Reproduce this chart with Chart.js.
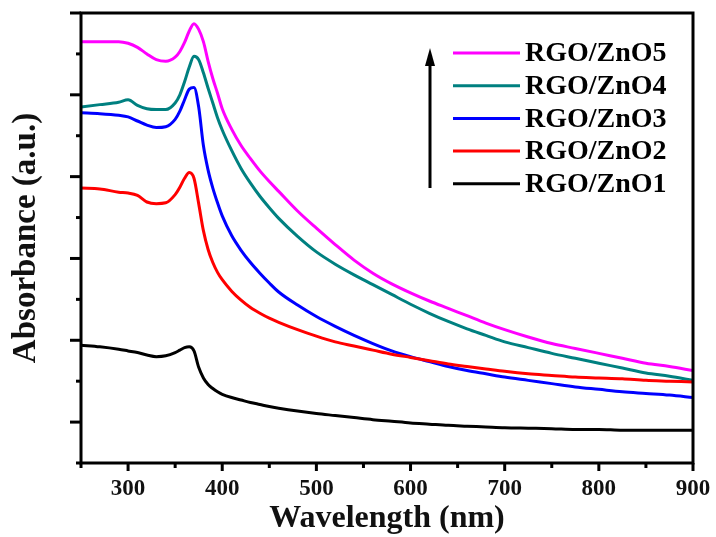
<!DOCTYPE html>
<html lang="en">
<head>
    <meta charset="UTF-8">
    <title>RGO/ZnO Absorbance</title>
    <script src="https://cdn.jsdelivr.net/npm/chart.js"></script>
    <style>
        body, html {
            margin: 0;
            padding: 0;
            background: #fff;
        }
        .chart-container {
            width: 716px;
            height: 537px;
        }
    </style>
</head>
<body>
    <div class="chart-container">
        <canvas id="absChart"></canvas>
    </div>

    <script>
        // Wavelength (nm) shared by all spectra
        const wavelengths = [250, 270, 290, 300, 310, 320, 330, 340, 350, 355, 360, 365, 370, 375, 380, 385, 390, 395, 400,
            410, 420, 430, 440, 450, 460, 480, 500, 520, 540, 560, 580, 600, 620, 640, 660, 680, 700, 725, 750, 775, 800,
            825, 850, 875, 900];

        const zno1 = [1.44, 1.42, 1.39, 1.37, 1.35, 1.32, 1.30, 1.31, 1.35, 1.38, 1.41, 1.42, 1.37, 1.17, 1.04, 0.96, 0.91, 0.87, 0.84,
            0.80, 0.77, 0.74, 0.715, 0.69, 0.67, 0.635, 0.605, 0.58, 0.555, 0.53, 0.51, 0.49, 0.475, 0.46, 0.45, 0.44, 0.43, 0.425, 0.42, 0.41, 0.41,
            0.40, 0.40, 0.40, 0.40];
        const zno2 = [3.36, 3.35, 3.31, 3.30, 3.27, 3.19, 3.17, 3.18, 3.28, 3.37, 3.48, 3.55, 3.48, 3.17, 2.84, 2.61, 2.45, 2.33, 2.24,
            2.10, 1.99, 1.90, 1.83, 1.77, 1.72, 1.63, 1.55, 1.48, 1.43, 1.38, 1.33, 1.29, 1.25, 1.21, 1.18, 1.15, 1.12, 1.09, 1.07, 1.05, 1.04,
            1.03, 1.01, 1.00, 0.99];
        const zno3 = [4.28, 4.27, 4.25, 4.23, 4.18, 4.13, 4.10, 4.11, 4.20, 4.30, 4.44, 4.57, 4.59, 4.35, 3.88, 3.58, 3.36, 3.18, 3.02,
            2.78, 2.60, 2.45, 2.32, 2.20, 2.09, 1.93, 1.79, 1.67, 1.56, 1.46, 1.37, 1.30, 1.24, 1.18, 1.13, 1.09, 1.05, 1.01, 0.97, 0.93, 0.90,
            0.87, 0.85, 0.83, 0.80];
        const zno4 = [4.35, 4.38, 4.41, 4.44, 4.37, 4.33, 4.32, 4.32, 4.40, 4.50, 4.66, 4.84, 4.97, 4.93, 4.77, 4.58, 4.40, 4.22, 4.07,
            3.82, 3.60, 3.42, 3.26, 3.12, 2.99, 2.77, 2.58, 2.43, 2.30, 2.18, 2.06, 1.94, 1.83, 1.73, 1.64, 1.56, 1.48, 1.41, 1.34, 1.28, 1.22,
            1.16, 1.10, 1.06, 1.01];
        const zno5 = [5.15, 5.15, 5.15, 5.13, 5.08, 5.00, 4.93, 4.91, 4.96, 5.03, 5.14, 5.28, 5.37, 5.30, 5.15, 4.91, 4.70, 4.52, 4.33,
            4.08, 3.88, 3.72, 3.57, 3.44, 3.32, 3.08, 2.87, 2.67, 2.48, 2.32, 2.19, 2.08, 1.98, 1.89, 1.80, 1.71, 1.63, 1.54, 1.46, 1.40, 1.34,
            1.28, 1.22, 1.18, 1.13];

        const seriesNames = ['RGO/ZnO1', 'RGO/ZnO2', 'RGO/ZnO3', 'RGO/ZnO4', 'RGO/ZnO5'];
        const seriesValues = [zno1, zno2, zno3, zno4, zno5];
        const seriesColors = ['#000000', '#ff0000', '#0000ff', '#008080', '#ff00ff'];

        const xTicks = [250, 300, 350, 400, 450, 500, 550, 600, 650, 700, 750, 800, 850, 900];
        const yTicks = [0, 0.5, 1, 1.5, 2, 2.5, 3, 3.5, 4, 4.5, 5, 5.5];

        const serif = "'Liberation Serif', 'Times New Roman', serif";

        const datasets = seriesNames.map((name, i) => ({
            label: name,
            data: wavelengths.map((w, j) => ({ x: w, y: seriesValues[i][j] })),
            borderColor: seriesColors[i],
            backgroundColor: seriesColors[i],
            borderWidth: 3,
            pointRadius: 0,
            cubicInterpolationMode: 'monotone',
            fill: false
        }));

        // frame, outward ticks, legend and arrow
        const decorations = {
            id: 'decorations',
            afterDraw(chart) {
                const ctx = chart.ctx;
                const area = chart.chartArea;
                const xs = chart.scales.x;
                const ys = chart.scales.y;
                ctx.save();
                ctx.strokeStyle = '#000';
                ctx.lineWidth = 3;
                ctx.lineCap = 'butt';
                ctx.strokeRect(area.left, area.top, area.right - area.left, area.bottom - area.top);

                xTicks.forEach(v => {
                    const px = xs.getPixelForValue(v);
                    const len = v % 100 === 0 ? 8 : 5;
                    ctx.beginPath();
                    ctx.moveTo(px, area.bottom);
                    ctx.lineTo(px, area.bottom + len);
                    ctx.stroke();
                });
                yTicks.forEach(v => {
                    const py = ys.getPixelForValue(v);
                    const len = Math.round(v * 2) % 2 === 1 ? 11 : 5;
                    ctx.beginPath();
                    ctx.moveTo(area.left, py);
                    ctx.lineTo(area.left - len, py);
                    ctx.stroke();
                });

                // legend, top entry is ZnO5
                const lx0 = area.right - 240;
                const lx1 = area.right - 173;
                ctx.font = 'bold 28px ' + serif;
                ctx.textBaseline = 'middle';
                ctx.textAlign = 'left';
                for (let k = 0; k < seriesNames.length; k++) {
                    const i = seriesNames.length - 1 - k;
                    const y = area.top + 40 + k * 32.7;
                    ctx.strokeStyle = seriesColors[i];
                    ctx.lineWidth = 3;
                    ctx.beginPath();
                    ctx.moveTo(lx0, y);
                    ctx.lineTo(lx1, y);
                    ctx.stroke();
                    ctx.fillStyle = '#000';
                    ctx.fillText(seriesNames[i], lx1 + 5, y + 1);
                }

                // arrow
                const ax = area.right - 263;
                ctx.strokeStyle = '#000';
                ctx.fillStyle = '#000';
                ctx.lineWidth = 3;
                ctx.beginPath();
                ctx.moveTo(ax, area.top + 175);
                ctx.lineTo(ax, area.top + 50);
                ctx.stroke();
                ctx.beginPath();
                ctx.moveTo(ax, area.top + 35);
                ctx.lineTo(ax - 5, area.top + 53);
                ctx.lineTo(ax + 5, area.top + 53);
                ctx.closePath();
                ctx.fill();
                ctx.restore();
            }
        };

        const ctx = document.getElementById('absChart').getContext('2d');
        new Chart(ctx, {
            type: 'line',
            data: { datasets: datasets },
            options: {
                responsive: true,
                maintainAspectRatio: false,
                animation: false,
                layout: { padding: { top: 13, right: 23, left: 0, bottom: 0 } },
                plugins: {
                    legend: { display: false },
                    tooltip: { enabled: false }
                },
                scales: {
                    x: {
                        type: 'linear',
                        min: 250,
                        max: 900,
                        afterFit: s => {
                            s.height = 74;
                            s.paddingLeft = 0;
                            s.paddingRight = 0;
                        },
                        afterBuildTicks: s => { s.ticks = xTicks.map(v => ({ value: v })); },
                        grid: { display: false, drawTicks: false },
                        border: { display: false },
                        ticks: {
                            autoSkip: false,
                            maxRotation: 0,
                            padding: 12,
                            color: '#111',
                            font: { family: serif, size: 23, weight: 'bold' },
                            callback: v => (v % 100 === 0 && v > 250) ? v : ''
                        },
                        title: {
                            display: true,
                            text: 'Wavelength (nm)',
                            color: '#111',
                            font: { family: serif, size: 32, weight: 'bold', lineHeight: 1 },
                            padding: { top: 0, bottom: 2 }
                        }
                    },
                    y: {
                        min: 0,
                        max: 5.5,
                        afterFit: s => { s.width = 81; },
                        afterBuildTicks: s => { s.ticks = yTicks.map(v => ({ value: v })); },
                        grid: { display: false, drawTicks: false },
                        border: { display: false },
                        ticks: { display: false },
                        title: {
                            display: true,
                            text: 'Absorbance (a.u.)',
                            color: '#111',
                            font: { family: serif, size: 33, weight: 'bold', lineHeight: 1 },
                            padding: { top: 10, bottom: 0 }
                        }
                    }
                }
            },
            plugins: [decorations]
        });
    </script>
</body>
</html>
